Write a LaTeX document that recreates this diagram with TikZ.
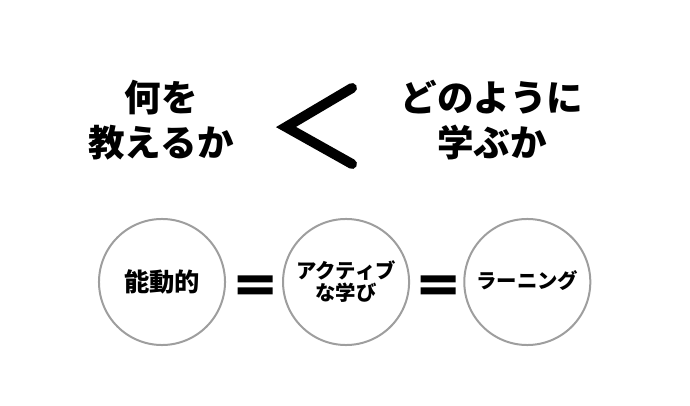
\documentclass[tikz,border=0pt]{standalone}
\usepackage{fontspec}
\newfontfamily\jpfont{Noto Sans CJK JP}
\usetikzlibrary{positioning}

\begin{document}
\begin{tikzpicture}[x=0.025cm, y=-0.025cm,
	bigtext/.style={align=center, font=\jpfont\bfseries\fontsize{26}{31.5}\selectfont},
	cstyle/.style={circle, draw=black!38, line width=0.05cm,
	minimum size=3.15cm, inner sep=0pt, align=center},
	ctext/.style={font=\jpfont\bfseries\fontsize{14.5}{15.6}\selectfont},
	]
	\useasboundingbox (0,0) rectangle (690,406);
	\node[bigtext] (what) at (161,120) {何を\\教えるか};
	\node[bigtext] (how) at (492,120) {どのように\\学ぶか};
	\draw[line width=0.25cm, line cap=round] (352,88) -- (286,127) -- (352,164);
	
	\node[cstyle, font=\jpfont\bfseries\fontsize{18}{20}\selectfont] (act) at (162,282) {能動的};
	\node[cstyle, ctext] (active) [right=1.4cm of act] {アクティブ\\な学び};
	\node[cstyle, ctext] (learn) [right=1.33cm of active] {\raisebox{0.12cm}{ラーニング}};
	
	\coordinate[right=0.73cm of act.east, yshift=-0.07cm] (eq1);
	\coordinate[right=0.7cm of active.east, yshift=-0.07cm] (eq2);
	\fill[shift={(eq1)}] (-17.5,-9.5) rectangle (17.5,-2.5) (-17.5,2.5) rectangle (17.5,9.5);
	\fill[shift={(eq2)}] (-17.5,-9.5) rectangle (17.5,-2.5) (-17.5,2.5) rectangle (17.5,9.5);
\end{tikzpicture}
\end{document}
